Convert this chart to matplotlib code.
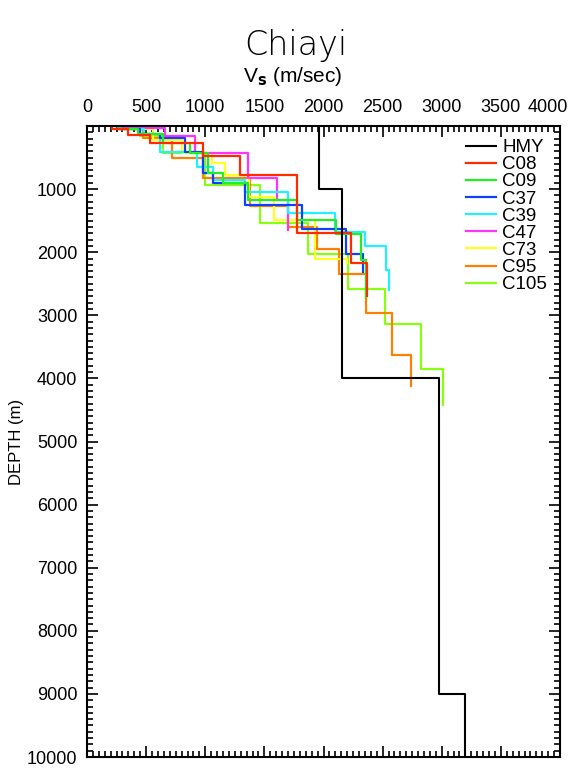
import numpy as np
import matplotlib
matplotlib.use("Agg")
import matplotlib.pyplot as plt
from matplotlib.ticker import MultipleLocator

plt.rcParams['font.family'] = ['Liberation Sans', 'DejaVu Sans']

# layer velocities (m/s) and layer bottom depths (m)
names = ["HMY", "C08", "C09", "C37", "C39", "C47", "C73", "C95", "C105"]
colors = ["black", "#ff2a00", "#22ee22", "#1040ff", "#22f0ff",
          "#ff33ff", "#ffff22", "#ff8000", "#88ff11"]

hmy_v = [1960, 2160, 2980, 3200]
hmy_d = [1000, 4000, 9000, 10000]

c08_v = [210, 350, 530, 980, 1290, 1780, 2230, 2370]
c08_d = [40, 140, 270, 480, 780, 1700, 2170, 2700]

c09_v = [260, 430, 640, 870, 1020, 1150, 1360, 1780, 2105, 2320, 2360]
c09_d = [40, 130, 270, 430, 745, 905, 1170, 1490, 1710, 2120, 2710]

c37_v = [250, 450, 620, 830, 980, 1065, 1335, 1820, 2190, 2330]
c37_d = [40, 130, 190, 410, 745, 905, 1250, 1635, 2030, 2310]

c39_v = [280, 480, 620, 930, 1065, 1335, 1700, 2100, 2350, 2530, 2555]
c39_d = [40, 120, 410, 650, 855, 1045, 1380, 1680, 1900, 2280, 2600]

c47_v = [270, 660, 915, 1360, 1610, 1700]
c47_d = [30, 160, 430, 825, 1170, 1650]

c73_v = [270, 560, 800, 1060, 1165, 1370, 1580, 1930, 2200]
c73_d = [50, 220, 430, 590, 780, 1125, 1490, 2110, 2170]

c95_v = [300, 470, 720, 980, 1380, 1700, 1945, 2130, 2360, 2580, 2740]
c95_d = [50, 190, 507, 824, 1268, 1601, 1950, 2346, 2964, 3630, 4120]

c105_v = [250, 450, 640, 1000, 1460, 1870, 2210, 2520, 2825, 3010]
c105_d = [30, 160, 430, 935, 1540, 2030, 2590, 3140, 3850, 4420]

profiles = [(hmy_v, hmy_d), (c08_v, c08_d), (c09_v, c09_d), (c37_v, c37_d),
            (c39_v, c39_d), (c47_v, c47_d), (c73_v, c73_d), (c95_v, c95_d),
            (c105_v, c105_d)]

xticks = np.arange(0, 4001, 500)
yticks = np.arange(1000, 10001, 1000)


def steps(v, d):
    # turn layers into a staircase
    d = np.asarray(d, dtype=float)
    x = np.repeat(v, 2)
    y = np.r_[0, np.repeat(d[:-1], 2), d[-1]]
    return x, y


fig = plt.figure(figsize=(5.72, 7.68), dpi=100)
ax = fig.add_axes([87/572, 1-757/768, (560-87)/572, (757-126)/768])

# coloured ones underneath, black on top
for (v, d), c, n in list(zip(profiles, colors, names))[::-1]:
    x, y = steps(v, d)
    ax.plot(x, y, color=c, lw=1.6 if n != "HMY" else 1.5, label=n,
            zorder=3 if n == "HMY" else 2)

ax.set_xlim(0, 4000)
ax.set_ylim(10000, 0)
# last top label would hang off the figure, so it is drawn right-aligned below
ax.set_xticks(xticks, [str(t) for t in xticks[:-1]] + [""])
ax.xaxis.set_minor_locator(MultipleLocator(50))
ax.set_yticks(yticks)
ax.yaxis.set_minor_locator(MultipleLocator(100))
ax.xaxis.tick_top()
ax.tick_params(which='both', direction='in', top=True, bottom=True,
               left=True, right=True, labelsize=13, width=1.2)
ax.tick_params(which='major', length=8, pad=7)
ax.tick_params(which='minor', length=4)
for s in ax.spines.values():
    s.set_linewidth(1.5)
ax.annotate(str(xticks[-1]), xy=(xticks[-1], 1), xycoords=('data', 'axes fraction'),
            xytext=(6, 7), textcoords='offset points', ha='right', va='bottom',
            fontsize=13)

ax.set_ylabel("DEPTH (m)", fontsize=12, labelpad=2)
fig.text(296/572, 1-45/768, "Chiayi", ha='center', va='center',
         fontsize=24, fontweight='light', family=['DejaVu Sans'])
fig.text(293/572, 1-76/768, r"V$_\mathbf{s}$ (m/sec)", ha='center',
         va='center', fontsize=15)

h, l = ax.get_legend_handles_labels()
ax.legend(h[::-1], l[::-1], loc='upper right', frameon=False, fontsize=13.5,
          handlelength=1.6, handletextpad=0.3, labelspacing=0.0,
          borderaxespad=0.4, borderpad=0.3)

fig.savefig("out.png", dpi=100)
